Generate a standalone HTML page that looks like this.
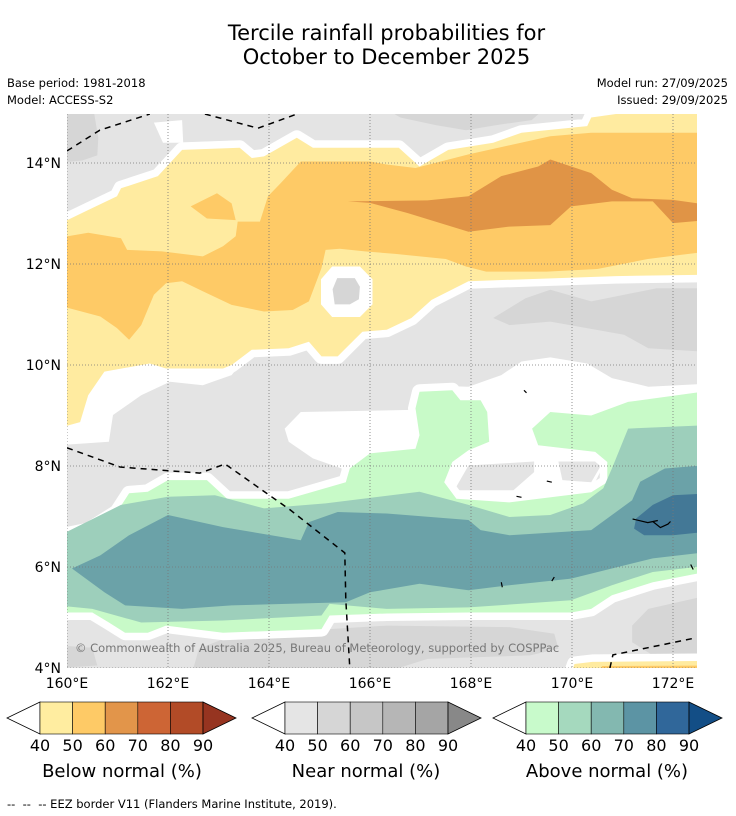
<!DOCTYPE html>
<html><head><meta charset="utf-8">
<style>
html,body{margin:0;padding:0;background:#fff;}
body{width:736px;height:816px;position:relative;overflow:hidden;font-family:"DejaVu Sans","Liberation Sans",sans-serif;}
.t{position:absolute;white-space:pre;color:#000;}
</style></head>
<body>
<div class="t" style="left:0;width:773px;top:21px;text-align:center;font-size:21px;line-height:24px;">Tercile rainfall probabilities for
October to December 2025</div>
<div class="t" style="left:7px;top:76px;font-size:11.5px;">Base period: 1981-2018</div>
<div class="t" style="left:7px;top:93px;font-size:11.5px;">Model: ACCESS-S2</div>
<div class="t" style="right:8px;top:76px;font-size:11.5px;">Model run: 27/09/2025</div>
<div class="t" style="right:8px;top:93px;font-size:11.5px;">Issued: 29/09/2025</div>
<svg id="map" width="736" height="816" style="position:absolute;left:0;top:0;" xmlns="http://www.w3.org/2000/svg">
<defs><clipPath id="mc"><rect x="67" y="114" width="630" height="554"/></clipPath></defs>
<g id="layers" clip-path="url(#mc)"></g>
<g id="axes"></g>
</svg>
<div class="t" style="left:75px;top:641px;font-size:11.5px;color:#777;">© Commonwealth of Australia 2025, Bureau of Meteorology, supported by COSPPac</div>
<svg id="cbars" width="736" height="816" style="position:absolute;left:0;top:0;pointer-events:none;" xmlns="http://www.w3.org/2000/svg"></svg>
<div class="t" style="left:22px;width:200px;top:761px;text-align:center;font-size:18px;">Below normal (%)</div>
<div class="t" style="left:266px;width:200px;top:761px;text-align:center;font-size:18px;">Near normal (%)</div>
<div class="t" style="left:507px;width:200px;top:761px;text-align:center;font-size:18px;">Above normal (%)</div>
<div class="t" style="left:7px;top:797px;font-size:11.5px;">--  --  -- EEZ border V11 (Flanders Marine Institute, 2019).</div>
<script>
// axis data
const lonTicks=[160,162,164,166,168,170,172];
const latTicks=[4,6,8,10,12,14];
const lonMin=160, latMax=14, pxPerDeg=50.5;
function X(lon){return 67+(lon-lonMin)*pxPerDeg;}
function Y(lat){return 163+(latMax-lat)*pxPerDeg;}
// contour polygons [lon,lat]
const gray50TopLeft=[[159.8,15.2],[160.5,15.2],[160.62,14.5],[160.6,14.15],[160.3,14.05],[159.8,14.0]];
const gray50TopMid=[[166.1,15.2],[169.6,15.2],[169.2,14.85],[168.5,14.75],[167.9,14.65],[167.3,14.75],[166.6,14.9]];
const gray50MidRight=[[168.44,10.93],[169.08,11.32],[169.57,11.49],[170.38,11.26],[171.68,11.52],[172.7,11.52],[172.7,10.26],[171.51,10.33],[171.03,10.6],[169.57,10.86],[168.76,10.79]];
const gray50Bottom=[[162.45,3.8],[162.61,4.38],[163.26,4.64],[164.71,4.74],[166.33,4.84],[168.76,4.81],[169.65,4.68],[169.73,4.38],[169.17,4.25],[167.14,4.18],[165.93,3.8]];
const gray50BottomRight=[[171.19,4.84],[171.51,5.17],[172.7,5.44],[172.7,4.25],[171.6,4.25],[171.19,4.51]];
const gray50BottomLeft=[[159.8,4.45],[160.5,4.4],[160.6,4.05],[159.8,4.0]];
const whiteLeft=[[159.8,8.41],[160.83,8.48],[160.91,9.01],[161.47,9.4],[162.04,9.67],[162.69,9.6],[163.26,9.8],[163.5,10.1],[161.9,10.1],[160.5,10.0],[159.8,9.5]];
const whiteMid=[[164.31,8.74],[164.63,9.07],[166.82,9.11],[166.98,9.6],[167.95,9.57],[168.6,9.8],[169.0,10.07],[169.57,10.15],[170.3,10.03],[170.79,9.74],[171.51,9.57],[172.7,9.63],[172.7,7.68],[170.62,8.01],[170.38,7.52],[168.76,7.35],[167.63,7.35],[167.47,7.68],[167.63,8.08],[166.33,7.95],[165.44,7.68],[165.44,7.95],[164.87,8.15],[164.39,8.48]];
const grayPatch1=[[167.67,7.52],[167.95,8.01],[169.25,8.09],[169.25,7.88],[168.84,7.52]];
const grayPatch2=[[169.73,8.09],[170.62,8.09],[170.38,7.68],[169.81,7.72]];
const whiteNotch=[[161.72,14.8],[162.28,14.85],[162.3,14.4],[161.9,14.4]];
const below40=[[159.8,12.77],[160.42,13.07],[160.99,13.34],[161.07,13.5],[161.8,13.74],[162.28,14.26],[163.42,14.3],[163.66,14.1],[163.9,14.13],[164.55,14.5],[164.87,14.3],[166.57,14.3],[166.98,13.93],[167.55,14.26],[168.44,14.4],[169.0,14.6],[170.3,14.73],[170.38,14.9],[171.43,15.05],[172.8,15.05],[172.8,11.79],[170.87,11.76],[167.95,11.66],[167.22,11.29],[166.82,10.93],[166.33,10.7],[165.85,10.66],[165.52,10.33],[165.36,10.17],[165.04,10.17],[164.79,10.46],[164.39,10.33],[163.66,10.3],[163.26,10.0],[163.09,9.93],[161.96,9.93],[161.64,10.03],[160.74,9.87],[160.42,9.4],[160.26,8.87],[159.8,8.74]];
const below50=[[159.8,12.51],[160.42,12.62],[161.07,12.51],[161.19,12.28],[161.88,12.25],[162.69,12.15],[163.09,12.35],[163.34,12.55],[163.38,12.84],[163.82,12.84],[163.98,13.34],[164.23,13.6],[164.63,14.03],[166.0,14.03],[166.33,13.97],[166.9,13.9],[167.95,14.17],[169.57,14.53],[170.38,14.6],[172.7,14.6],[172.7,12.25],[171.5,12.1],[170.5,11.9],[169.5,11.85],[168.3,11.85],[167.9,11.95],[167.5,12.1],[166.5,12.2],[165.9,12.25],[165.4,12.3],[165.12,12.28],[165.04,11.92],[164.79,11.26],[164.47,11.09],[163.9,11.06],[163.26,11.19],[162.69,11.46],[162.28,11.66],[161.96,11.62],[161.72,11.39],[161.47,10.79],[161.23,10.5],[160.99,10.73],[160.66,10.96],[159.8,11.19]];
const below50Tri=[[162.45,13.14],[162.97,13.4],[163.26,13.2],[163.34,12.87],[162.77,12.9]];
const below60=[[165.56,13.24],[166.0,13.21],[166.74,13.01],[167.95,12.64],[168.76,12.74],[169.57,12.77],[169.98,13.14],[170.79,13.24],[171.6,13.24],[172.0,12.81],[172.7,12.87],[172.7,13.17],[172.0,13.27],[171.19,13.3],[170.79,13.47],[170.38,13.8],[169.57,14.07],[169.33,13.93],[168.6,13.74],[167.95,13.34],[167.14,13.26]];
const ringWhite=[[165.25,11.95],[165.8,11.95],[166.05,11.7],[166.05,11.2],[165.8,10.95],[165.25,10.95],[165.03,11.2],[165.03,11.7]];
const ringGray=[[165.35,11.72],[165.7,11.72],[165.8,11.55],[165.78,11.3],[165.6,11.2],[165.3,11.2],[165.26,11.5]];
const below40BR=[[169.95,3.8],[170.05,4.08],[170.4,4.12],[172.8,4.14],[172.8,3.8]];
const below50BR=[[170.4,3.8],[170.6,4.04],[172.8,4.05],[172.8,3.8]];
const above40=[[159.8,6.6],[160.42,6.73],[160.99,7.09],[161.23,7.46],[161.6,7.49],[162.0,7.72],[162.77,7.72],[163.17,7.35],[164.39,7.35],[165.52,7.68],[165.6,7.95],[166.0,8.25],[166.9,8.34],[166.98,8.61],[166.9,9.14],[166.98,9.47],[167.63,9.5],[167.79,9.3],[168.19,9.3],[168.32,9.07],[168.36,8.48],[167.95,8.31],[167.63,8.08],[167.47,7.68],[167.71,7.35],[168.76,7.28],[170.38,7.48],[170.7,7.68],[170.7,8.08],[170.46,8.28],[169.33,8.41],[169.21,8.74],[169.57,9.07],[170.38,9.0],[171.11,9.27],[172.8,9.5],[172.8,5.93],[171.6,5.7],[170.79,5.44],[170.38,5.17],[169.98,5.1],[167.95,5.1],[166.33,5.08],[165.2,5.04],[165.04,4.77],[163.09,4.7],[161.96,4.84],[161.6,4.7],[161.15,4.7],[160.83,4.9],[160.5,5.1],[159.8,5.1]];
const above50=[[159.8,6.6],[161.07,7.23],[162.0,7.39],[162.93,7.42],[163.9,7.16],[165.12,7.26],[166.98,7.49],[167.95,7.23],[168.76,6.99],[169.57,7.03],[170.22,7.26],[170.62,7.56],[170.79,7.95],[171.11,8.74],[172.7,8.81],[172.7,6.03],[171.6,5.9],[170.79,5.64],[169.98,5.34],[167.95,5.2],[166.33,5.17],[165.2,5.27],[165.04,5.04],[163.09,4.94],[161.47,4.9],[160.5,5.17],[159.8,5.24]];
const above60=[[160.1,5.97],[160.66,6.23],[161.23,6.63],[162.0,7.03],[163.09,6.79],[164.63,6.53],[164.79,6.89],[165.36,7.09],[166.33,7.06],[167.95,6.93],[168.19,6.73],[168.76,6.63],[170.38,6.73],[171.19,7.32],[171.35,7.69],[171.84,7.95],[172.7,8.02],[172.7,6.3],[171.6,6.17],[169.98,5.77],[168.76,5.64],[167.95,5.54],[166.98,5.67],[166.0,5.5],[165.52,5.3],[163.26,5.24],[162.28,5.17],[161.15,5.24],[160.74,5.5]];
const above70=[[171.27,6.96],[171.6,7.23],[172.0,7.42],[172.7,7.46],[172.7,6.7],[172.0,6.63],[171.43,6.63],[171.23,6.76]];
const eezTop=[[160,14.24],[160.65,14.65],[161.64,14.97]];
const eezTop2=[[162.73,14.97],[163.78,14.69],[164.61,14.99]];
const eezMid=[[160,8.36],[161.05,7.98],[162.63,7.86],[163.13,8.04],[164.42,7.13],[165.5,6.28],[165.52,5.35],[165.6,4.0]];
const eezBR=[[170.75,4.0],[170.81,4.26],[172.47,4.6]];
const islands=[[[171.2,6.95],[171.5,6.88],[171.7,6.92]],[[171.6,6.9],[171.75,6.78],[171.9,6.85],[171.95,6.9]],[[169.5,7.7],[169.6,7.68]],[[168.6,5.7],[168.62,5.6]],[[172.35,6.05],[172.4,5.95]],[[169.65,5.8],[169.6,5.72]],[[168.9,7.4],[169.0,7.38]],[[169.05,9.5],[169.1,9.45]]];

const NS='http://www.w3.org/2000/svg';
const FONT='DejaVu Sans, Liberation Sans, sans-serif';
const L=document.getElementById('layers');
function pts(a){return a.map(p=>X(p[0]).toFixed(1)+','+Y(p[1]).toFixed(1)).join(' ');}
function poly(a,fill,name,gap){
  const e=document.createElementNS(NS,'polygon');
  e.setAttribute('points',pts(a));
  e.setAttribute('fill',fill);
  if(gap){e.setAttribute('stroke','#fff');e.setAttribute('stroke-width','15');e.setAttribute('stroke-linejoin','round');e.setAttribute('paint-order','stroke');}
  
  
  L.appendChild(e);
}
const bg=document.createElementNS(NS,'rect');
bg.setAttribute('x',67);bg.setAttribute('y',114);bg.setAttribute('width',630);bg.setAttribute('height',554);bg.setAttribute('fill','#E4E4E4');


L.appendChild(bg);
const G50='#D6D6D6';
poly(gray50TopLeft,G50,'near-50-top-left');
poly(gray50TopMid,G50,'near-50-top-mid');
poly(gray50MidRight,G50,'near-50-mid-right');
poly(gray50Bottom,G50,'near-50-bottom');
poly(gray50BottomRight,G50,'near-50-bottom-right');
poly(gray50BottomLeft,G50,'near-50-bottom-left');
poly(whiteLeft,'#fff','no-signal-left');
poly(whiteMid,'#fff','no-signal-mid');
poly(grayPatch1,'#E4E4E4','near-40-patch-1');
poly(grayPatch2,'#E4E4E4','near-40-patch-2');
poly(whiteNotch,'#fff','no-signal-notch');
poly(below40,'#FFEBA0','below-40',true);
poly(below50,'#FECA66','below-50');
poly(below50Tri,'#FECA66','below-50-patch');
poly(below60,'#E09446','below-60');
poly(ringWhite,'#fff','no-signal-ring');
poly(ringGray,'#D6D6D6','near-50-ring');
poly(below40BR,'#FFEBA0','below-40-bottom-right',true);
poly(below50BR,'#FECA66','below-50-bottom-right');
poly(above40,'#C8FAC8','above-40',true);
poly(above50,'#9DCFBB','above-50');
poly(above60,'#6BA2A8','above-60');
poly(above70,'#437896','above-70');

function line(a,name,dash,w){
  const e=document.createElementNS(NS,'polyline');
  e.setAttribute('points',pts(a));
  e.setAttribute('fill','none');e.setAttribute('stroke','#000');e.setAttribute('stroke-width',w);
  if(dash)e.setAttribute('stroke-dasharray',dash);
  
  
  L.appendChild(e);
}
const A=document.getElementById('axes');
lonTicks.forEach(function(v){
  const g=document.createElementNS(NS,'line');
  g.setAttribute('x1',X(v));g.setAttribute('x2',X(v));g.setAttribute('y1',114);g.setAttribute('y2',668);
  g.setAttribute('stroke','#777');g.setAttribute('stroke-width','0.8');g.setAttribute('stroke-dasharray','1,2');
  
  
  L.appendChild(g);
  const t=document.createElementNS(NS,'text');
  t.setAttribute('x',X(v));t.setAttribute('y',688);t.setAttribute('text-anchor','middle');t.setAttribute('font-size','14');
  t.setAttribute('font-family',FONT);
  t.textContent=v+'°E';
  
  
  A.appendChild(t);
});
latTicks.forEach(function(v){
  const g=document.createElementNS(NS,'line');
  g.setAttribute('x1',67);g.setAttribute('x2',697);g.setAttribute('y1',Y(v));g.setAttribute('y2',Y(v));
  g.setAttribute('stroke','#777');g.setAttribute('stroke-width','0.8');g.setAttribute('stroke-dasharray','1,2');
  
  
  L.appendChild(g);
  const t=document.createElementNS(NS,'text');
  t.setAttribute('x',61);t.setAttribute('y',Y(v)+5);t.setAttribute('text-anchor','end');t.setAttribute('font-size','14');
  t.setAttribute('font-family',FONT);
  t.textContent=v+'°N';
  
  
  A.appendChild(t);
});
line(eezTop,'eez-border-top','6,5',1.5);
line(eezTop2,'eez-border-top-2','6,5',1.5);
line(eezMid,'eez-border-mid','6,5',1.5);
line(eezBR,'eez-border-bottom-right','6,5',1.5);
islands.forEach(function(a){line(a,'island','',1.2);});

// colorbars
const cbTicks=['40','50','60','70','80','90'];
const belowColors=['#FFEDA0','#FECA66','#E2954A','#CD6535','#B24B27','#963420'];
const nearColors=['#E5E5E5','#D6D6D6','#C6C6C6','#B6B6B6','#A5A5A5','#888888'];
const aboveColors=['#C8FACB','#A5D9BE','#83B8B0','#5C94A4','#30679A','#134E86'];
const C=document.getElementById('cbars');
function cbar(x0,cols,name){
  const y0=702,h=32,w=163,seg=w/5,tip=33;
  const g=document.createElementNS(NS,'g');
  
  
  const l=document.createElementNS(NS,'polygon');
  l.setAttribute('points',x0+','+y0+' '+(x0-tip)+','+(y0+h/2)+' '+x0+','+(y0+h));
  l.setAttribute('fill','#fff');l.setAttribute('stroke','#000');l.setAttribute('stroke-width','0.8');
  g.appendChild(l);
  for(let i=0;i<5;i++){
    const r=document.createElementNS(NS,'rect');
    r.setAttribute('x',x0+i*seg);r.setAttribute('y',y0);r.setAttribute('width',seg);r.setAttribute('height',h);
    r.setAttribute('fill',cols[i]);r.setAttribute('stroke','#000');r.setAttribute('stroke-width','0.6');
    g.appendChild(r);
  }
  const rt=document.createElementNS(NS,'polygon');
  rt.setAttribute('points',(x0+w)+','+y0+' '+(x0+w+tip)+','+(y0+h/2)+' '+(x0+w)+','+(y0+h));
  rt.setAttribute('fill',cols[5]);rt.setAttribute('stroke','#000');rt.setAttribute('stroke-width','0.8');
  g.appendChild(rt);
  cbTicks.forEach(function(s,i){
    const t=document.createElementNS(NS,'text');
    t.setAttribute('x',x0+i*seg);t.setAttribute('y',751);t.setAttribute('text-anchor','middle');t.setAttribute('font-size','16');
    t.setAttribute('font-family',FONT);
    t.textContent=s;
    
    
    g.appendChild(t);
  });
  C.appendChild(g);
}
cbar(40,belowColors,'below-normal-colorbar');
cbar(285,nearColors,'near-normal-colorbar');
cbar(526,aboveColors,'above-normal-colorbar');
</script>
</body></html>
